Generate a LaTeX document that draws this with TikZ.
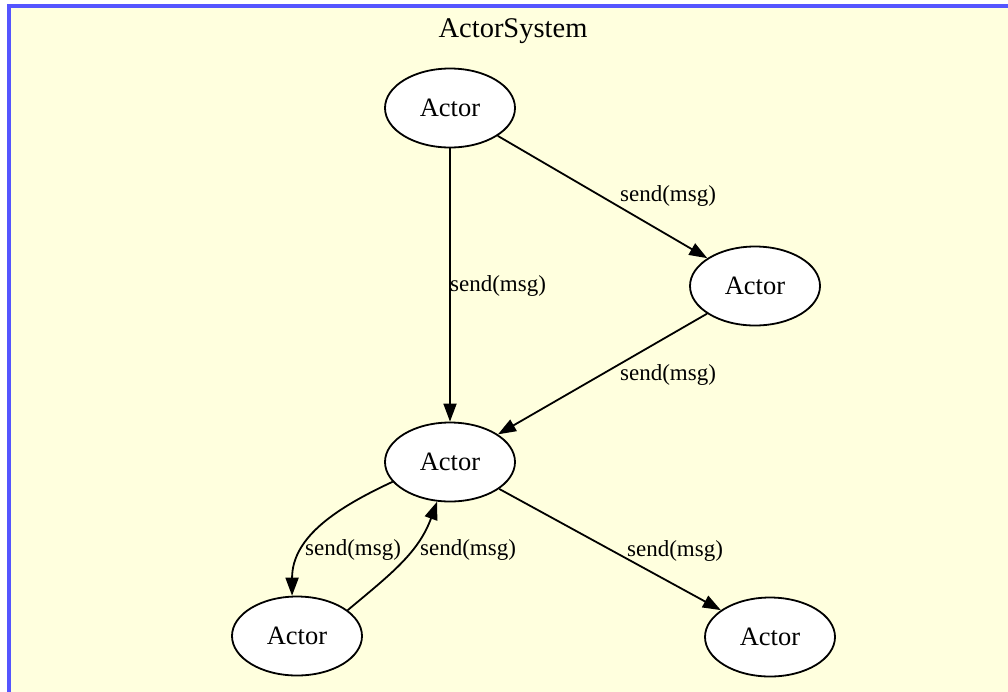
\documentclass[tikz,border=0pt]{standalone}
\usepackage{fontspec}
\setmainfont{Liberation Serif}
\usetikzlibrary{arrows.meta,shapes.geometric}
\definecolor{bgyellow}{HTML}{FFFFDE}
\definecolor{frameblue}{HTML}{5555FF}
\tikzset{
  actor/.style={ellipse, draw=black, fill=white, line width=1.8pt, minimum width=130pt, minimum height=79pt, inner sep=0pt, font=\fontsize{26.5}{30}\selectfont},
  msg/.style={draw=black, line width=1.8pt, -{Triangle[length=18pt,width=13pt]}},
  lbl/.style={font=\fontsize{23}{26}\selectfont, inner sep=1pt},
  title/.style={font=\fontsize{28.5}{32}\selectfont}
}
\begin{document}
\begin{tikzpicture}[x=1pt,y=-1pt]
\useasboundingbox (0,0) rectangle (1008,691);
\fill[white] (0,0) rectangle (1008,691);
\draw[frameblue, fill=bgyellow, line width=3.2pt] (9,6) rectangle (1015,700);
\node[title] (ttl) at (513,31) {ActorSystem};
\node[actor] (t) at (450,108) {Actor};
\node[actor] (r) at (755,286) {Actor};
\node[actor] (m) at (450,462) {Actor};
\node[actor] (bl) at (297,636) {Actor};
\node[actor] (br) at (770,637) {Actor};
\draw[msg] (t) -- (m);
\draw[msg] (t) -- (r);
\draw[msg] (r) -- (m);
\draw[msg] (m) -- (br);
\draw[msg] (m.199) to[out=205,in=90] (bl.97);
\draw[msg] (bl.27) to[out=40,in=250] (m.252);
\node[lbl] (l1) at (498,286) {send(msg)};
\node[lbl] (l2) at (668,196) {send(msg)};
\node[lbl] (l3) at (668,375) {send(msg)};
\node[lbl] (l4) at (353,550) {send(msg)};
\node[lbl] (l5) at (468,550) {send(msg)};
\node[lbl] (l6) at (675,551) {send(msg)};
\end{tikzpicture}
\end{document}
